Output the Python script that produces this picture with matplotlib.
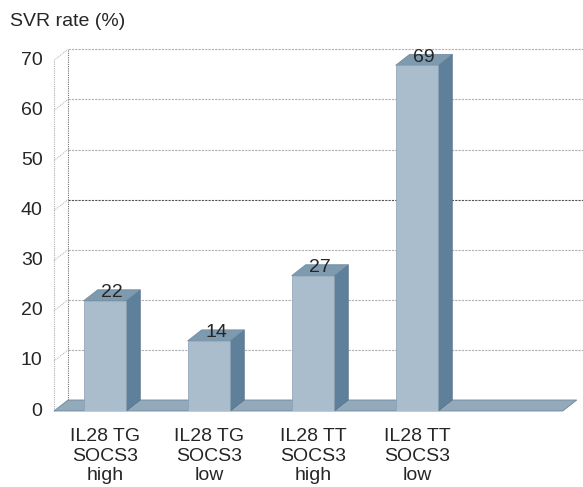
import matplotlib
matplotlib.use("Agg")
import matplotlib.pyplot as plt
from matplotlib.patches import Polygon

plt.rcParams['font.family'] = ['Liberation Sans', 'DejaVu Sans']

categories = ["IL28 TG\nSOCS3\nhigh", "IL28 TG\nSOCS3\nlow", "IL28 TT\nSOCS3\nhigh", "IL28 TT\nSOCS3\nlow"]
values = [22, 14, 27, 69]
yticks = [0, 10, 20, 30, 40, 50, 60, 70]
ylabel = "SVR rate (%)"

W, H = 583, 487
fig = plt.figure(figsize=(W / 100, H / 100), dpi=100)

ax_left_px, ax_bottom_px = 54, 487 - 411
px_per_unit_y = 5.01
px_per_unit_x = 104.0
ymax = 75
xmin = -0.49
xmax = xmin + (W - ax_left_px) / px_per_unit_x
ax = fig.add_axes([ax_left_px / W, ax_bottom_px / H, (W - ax_left_px) / W, ymax * px_per_unit_y / H])
ax.set_xlim(xmin, xmax)
ax.set_ylim(0, ymax)
for s in ax.spines.values():
    s.set_visible(False)
ax.set_xticks([])
ax.set_yticks([])

dx = 14 / px_per_unit_x
dy = 11 / px_per_unit_y
bw = 0.41
fs = 14
txt_c = "#262626"

grid_c = "#b0b0b0"
# left side wall edges
ax.plot([xmin, xmin], [0, 70], ls=(0, (1, 1)), color=grid_c, lw=0.8, clip_on=False)
ax.plot([xmin + dx, xmin + dx], [dy, 70 + dy], ls=(0, (1, 1)), color="#707070", lw=0.8, clip_on=False)
for v in yticks:
    if v == 0:
        continue
    c = "#555555" if v == 40 else grid_c
    ax.plot([xmin + dx, xmax], [v + dy, v + dy], ls=(0, (2, 1)), color=c, lw=0.8, clip_on=False, zorder=1)
    ax.plot([xmin, xmin + dx], [v, v + dy], ls=(0, (1, 1)), color=grid_c, lw=0.7, clip_on=False, zorder=1)
    ax.text(xmin - 0.11, v, str(v), ha="right", va="center", fontsize=fs, color=txt_c)
ax.text(xmin - 0.11, 0, "0", ha="right", va="center", fontsize=fs, color=txt_c)

# floor
floor_right = xmax - 0.06
ax.add_patch(Polygon([(xmin, 0), (floor_right - dx, 0), (floor_right, dy), (xmin + dx, dy)],
                     closed=True, facecolor="#93aabb", edgecolor="#6f8798", lw=0.6, zorder=2, clip_on=False))

front_c = "#a9bdcc"
side_c = "#5f809a"
top_c = "#7e9aaf"
for i, v in enumerate(values):
    x0, x1 = i - bw / 2, i + bw / 2
    ax.add_patch(Polygon([(x1, 0), (x1 + dx, dy), (x1 + dx, v + dy), (x1, v)], closed=True,
                         facecolor=side_c, edgecolor="#55708a", lw=0.5, zorder=3))
    ax.add_patch(Polygon([(x0, v), (x1, v), (x1 + dx, v + dy), (x0 + dx, v + dy)], closed=True,
                         facecolor=top_c, edgecolor="#6a879c", lw=0.5, zorder=3))
    ax.add_patch(Polygon([(x0, 0), (x1, 0), (x1, v), (x0, v)], closed=True,
                         facecolor=front_c, edgecolor="#8aa0b2", lw=0.5, zorder=4))
    ax.text(i + dx / 2, v + dy * 0.75, str(v), ha="center", va="center", fontsize=fs, color=txt_c, zorder=5)
    ax.text(i, -3.4, categories[i], ha="center", va="top", fontsize=fs, color=txt_c,
            linespacing=1.2, clip_on=False)

fig.text(10 / W, 1 - 22 / H, ylabel, ha="left", va="center", fontsize=fs, color=txt_c)

fig.savefig("out.png", dpi=100, facecolor="white")
